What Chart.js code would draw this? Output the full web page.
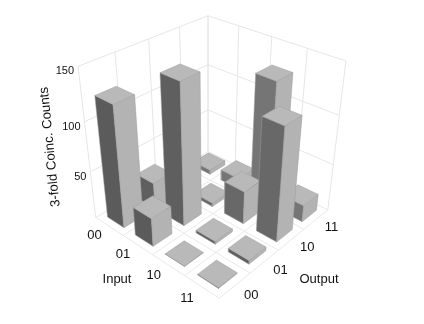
<!DOCTYPE html>
<html>
<head>
<meta charset="utf-8">
<style>
    html, body { margin: 0; padding: 0; background: #fff; }
    canvas { display: block; }
</style>
<script src="https://cdn.jsdelivr.net/npm/chart.js@4/dist/chart.umd.min.js"></script>
</head>
<body>
<canvas id="coincChart" width="424" height="324"></canvas>
<script>
const inputLabels = ['00', '01', '10', '11'];
const outputLabels = ['00', '01', '10', '11'];
const zTicks = [50, 100, 150];
const zMax = 150;

// one row per input, columns are the outputs
const countsInput00 = [124, 28, 5, 5];
const countsInput01 = [30, 143, 4, 12];
const countsInput10 = [0.5, 3, 35, 128];
const countsInput11 = [1, 4, 116, 18];
const counts = [countsInput00, countsInput01, countsInput10, countsInput11];

// where the box corners sit on the page: u along input, v along output, w up
const boxCorners = [
    [0, 0, 0, 96, 218],
    [1, 0, 0, 219, 298],
    [1, 1, 0, 328, 210],
    [0, 1, 0, 208, 151],
    [0, 0, 1, 78, 66],
    [0, 1, 1, 208, 16],
    [1, 1, 1, 346, 61]
];

function solveCamera() {
    const rows = [];
    boxCorners.forEach(([u, v, w, x, y]) => {
        rows.push([u, v, w, 1, 0, 0, 0, 0, -x * u, -x * v, -x * w, x]);
        rows.push([0, 0, 0, 0, u, v, w, 1, -y * u, -y * v, -y * w, y]);
    });
    const n = 11;
    const m = [];
    for (let i = 0; i < n; i++) {
        m[i] = [];
        for (let j = 0; j <= n; j++) {
            m[i][j] = rows.reduce((sum, r) => sum + r[i] * r[j], 0);
        }
    }
    for (let c = 0; c < n; c++) {
        let pivot = c;
        for (let r = c + 1; r < n; r++) {
            if (Math.abs(m[r][c]) > Math.abs(m[pivot][c])) pivot = r;
        }
        [m[c], m[pivot]] = [m[pivot], m[c]];
        for (let r = 0; r < n; r++) {
            if (r === c) continue;
            const f = m[r][c] / m[c][c];
            for (let j = c; j <= n; j++) m[r][j] -= f * m[c][j];
        }
    }
    return m.map((row, i) => row[n] / row[i]);
}

const cam = solveCamera();

function project(u, v, w) {
    const d = cam[8] * u + cam[9] * v + cam[10] * w + 1;
    return {
        x: (cam[0] * u + cam[1] * v + cam[2] * w + cam[3]) / d,
        y: (cam[4] * u + cam[5] * v + cam[6] * w + cam[7]) / d
    };
}

function lineSet(a, b, color) {
    return {
        data: [project(...a), project(...b)],
        showLine: true,
        borderColor: color,
        borderWidth: 1,
        pointRadius: 0,
        fill: false
    };
}

function faceSet(corners, color) {
    const pts = corners.map(c => project(...c));
    pts.push(pts[0]);
    return {
        data: pts,
        showLine: true,
        borderColor: '#9c9c9c',
        borderWidth: 0.5,
        backgroundColor: color,
        pointRadius: 0,
        fill: 'shape'
    };
}

function buildDatasets() {
    const sets = [];
    const wallColor = '#e6e6e6';
    const floorColor = '#e9e9e9';

    for (let k = 0; k <= 4; k++) {
        const t = k / 4;
        sets.push(lineSet([0, t, 0], [0, t, 1], wallColor));
        sets.push(lineSet([t, 1, 0], [t, 1, 1], wallColor));
        sets.push(lineSet([t, 0, 0], [t, 1, 0], floorColor));
        sets.push(lineSet([0, t, 0], [1, t, 0], floorColor));
    }
    zTicks.forEach(tick => {
        const w = tick / zMax;
        sets.push(lineSet([0, 0, w], [0, 1, w], wallColor));
        sets.push(lineSet([0, 1, w], [1, 1, w], wallColor));
    });

    const leftShades = ['#5b5b5b', '#5f5f5f', '#686868', '#757575'];
    const half = 0.3 / 4;
    // back corner is input 00 / output 11, so walk from there to the front
    counts.forEach((row, i) => {
        for (let o = row.length - 1; o >= 0; o--) {
            const w = row[o] / zMax;
            const cu = (i + 0.5) / 4;
            const cv = (o + 0.5) / 4;
            const u0 = cu - half, u1 = cu + half;
            const v0 = cv - half, v1 = cv + half;
            sets.push(faceSet([[u0, v0, 0], [u1, v0, 0], [u1, v0, w], [u0, v0, w]], leftShades[o]));
            sets.push(faceSet([[u1, v0, 0], [u1, v1, 0], [u1, v1, w], [u1, v0, w]], '#b3b3b3'));
            sets.push(faceSet([[u0, v0, w], [u1, v0, w], [u1, v1, w], [u0, v1, w]], '#b9b9b9'));
        }
    });
    sets.forEach((s, idx) => { s.order = -idx; });
    return sets;
}

const axisText = {
    id: 'axisText',
    afterDatasetsDraw(chart) {
        const { ctx, scales } = chart;
        const put = (p, text, align, dx, dy) => {
            ctx.textAlign = align;
            ctx.fillText(text, scales.x.getPixelForValue(p.x) + (dx || 0), scales.y.getPixelForValue(p.y) + (dy || 0));
        };
        ctx.save();
        ctx.fillStyle = '#111';
        ctx.textBaseline = 'middle';
        ctx.font = '13px "Liberation Sans"';
        inputLabels.forEach((t, i) => put(project((i + 0.5) / 4, -0.11, 0), t, 'center'));
        outputLabels.forEach((t, o) => put(project(1.11, (o + 0.5) / 4, 0), t, 'center'));
        ctx.font = '11px "Liberation Sans"';
        zTicks.forEach(t => put(project(0, 0, t / zMax), String(t), 'right', -4, 5));
        ctx.font = '13px "Liberation Sans"';
        put({ x: 117, y: 279 }, 'Input', 'center');
        put({ x: 319, y: 279 }, 'Output', 'center');
        ctx.translate(scales.x.getPixelForValue(50), scales.y.getPixelForValue(147));
        ctx.rotate(-Math.PI / 2 - 0.1);
        ctx.textAlign = 'center';
        ctx.font = '13.3px "Liberation Sans"';
        ctx.fillText('3-fold Coinc. Counts', 0, 0);
        ctx.restore();
    }
};

new Chart(document.getElementById('coincChart').getContext('2d'), {
    type: 'scatter',
    data: { datasets: buildDatasets() },
    plugins: [axisText],
    options: {
        responsive: false,
        animation: false,
        layout: { padding: 0 },
        plugins: { legend: { display: false }, tooltip: { enabled: false } },
        scales: {
            x: { type: 'linear', min: 0, max: 424, display: false },
            y: { type: 'linear', min: 0, max: 324, reverse: true, display: false }
        }
    }
});
</script>
</body>
</html>
